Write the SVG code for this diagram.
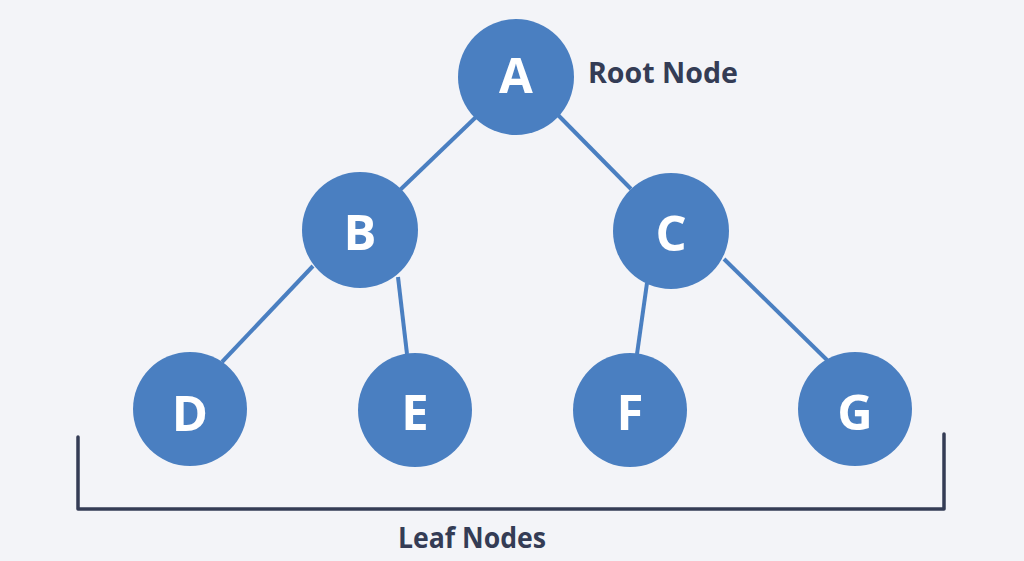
<svg xmlns="http://www.w3.org/2000/svg" width="1024" height="561" viewBox="0 0 1024 561">
<style>
.edge{stroke:#4a7fc1;stroke-width:4;stroke-linecap:butt;fill:none}
.node circle{fill:#4a7fc1}
.node text{fill:#ffffff;font-family:"Open Sans","Noto Sans","DejaVu Sans",sans-serif;font-weight:700;font-size:49px;text-anchor:middle}
.label{fill:#343c55;font-family:"Open Sans","Noto Sans","DejaVu Sans",sans-serif;font-weight:700;font-size:28px}
.bracket{stroke:#343c55;stroke-width:3.5;fill:none;stroke-linejoin:round;stroke-linecap:round}
</style>
<rect width="1024" height="561" fill="#f3f4f8"/>
<g id="connectors">
<line class="edge" x1="476" y1="117" x2="400" y2="190"/>
<line class="edge" x1="558" y1="115" x2="631" y2="189"/>
<line class="edge" x1="313" y1="266" x2="222" y2="362"/>
<line class="edge" x1="398" y1="277" x2="407" y2="354"/>
<line class="edge" x1="647" y1="283" x2="637" y2="354"/>
<line class="edge" x1="724" y1="259" x2="827" y2="360"/>
</g>
<g id="node-A" class="node"><circle cx="516" cy="77" r="58"/><text x="516" y="93">A</text></g>
<g id="node-B" class="node"><circle cx="360" cy="230" r="58"/><text x="360" y="250">B</text></g>
<g id="node-C" class="node"><circle cx="671" cy="231" r="58"/><text x="671" y="251">C</text></g>
<g id="node-D" class="node"><circle cx="190" cy="409" r="57"/><text x="190" y="431">D</text></g>
<g id="node-E" class="node"><circle cx="415" cy="410" r="57"/><text x="415" y="430">E</text></g>
<g id="node-F" class="node"><circle cx="630" cy="410" r="57"/><text x="630" y="430">F</text></g>
<g id="node-G" class="node"><circle cx="855" cy="409" r="57"/><text x="855" y="430">G</text></g>
<g id="root-label"><text class="label" x="588" y="83" textLength="150" lengthAdjust="spacingAndGlyphs">Root Node</text></g>
<g id="leaf-bracket">
<path class="bracket" d="M78 437 V509 H944 V434"/>
<text class="label" x="398" y="548" textLength="148" lengthAdjust="spacingAndGlyphs">Leaf Nodes</text>
</g>
</svg>
